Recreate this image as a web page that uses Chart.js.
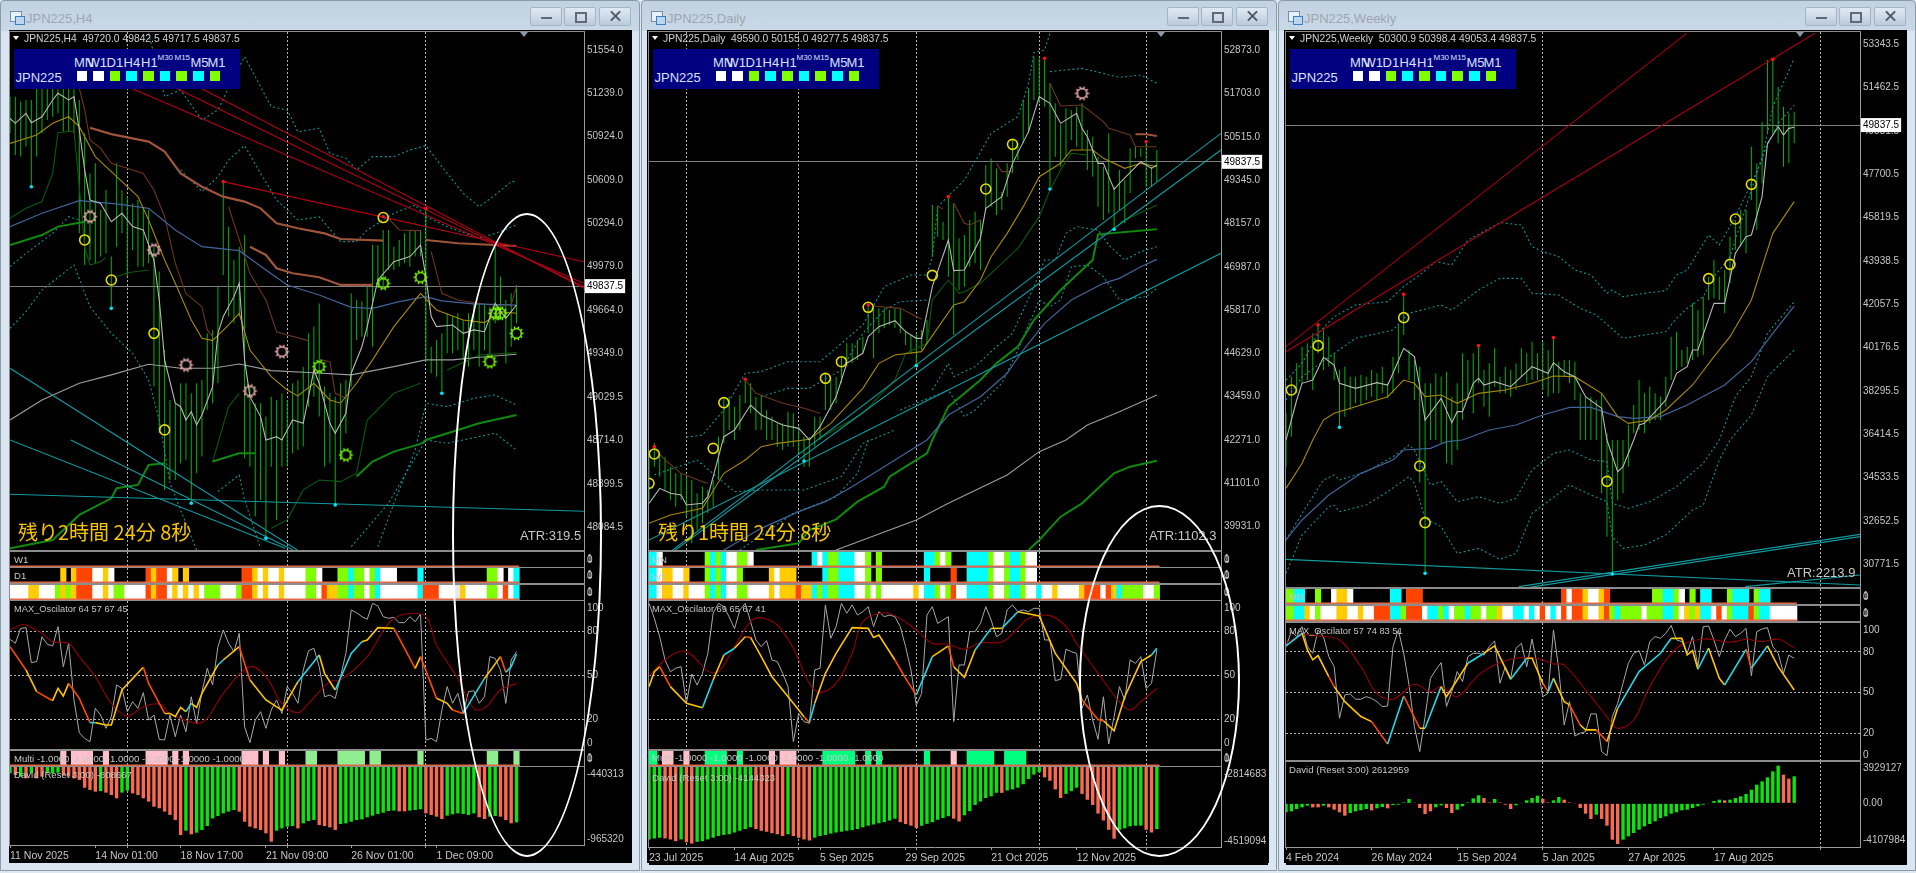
<!DOCTYPE html>
<html>
<head>
<meta charset="utf-8">
<title>JPN225</title>
<script src="https://cdn.jsdelivr.net/npm/chart.js@4"></script>
<style>
html, body { margin: 0; padding: 0; background: #dde8f2; overflow: hidden; }
body { width: 1916px; height: 873px; position: relative; font-family: "Liberation Sans", sans-serif; }
.win { position: absolute; top: 0; height: 871px; box-sizing: border-box; border: 1px solid #8d99a6; border-radius: 4px 4px 0 0; background: linear-gradient(#c3d2e0 0, #c9d8e6 30px, #d9e6f2 30px); }
.abs { position: absolute; }
canvas { position: absolute; background: #000; display: block; }
.txt { position: absolute; white-space: pre; line-height: 1; transform: translateY(-50%); }
.btn { position: absolute; top: 7px; width: 32px; height: 19px; box-sizing: border-box; border: 1px solid #a5b4c4; border-radius: 2px; background: linear-gradient(#dfe9f3, #bccbda); }
</style>
</head>
<body>
<script>
// ---------- JPN225,H4 ----------
const h4High = [51215,51215,51178,51191,51191,51275,51275,51275,51287,51275,
51287,51275,51275,51191,50948,50657,50730,50391,50536,50052,
50730,50536,50488,50439,50464,50403,50391,50124,49943,49373,
49010,48986,49131,49131,49058,49131,49155,49494,49519,49834,
50597,50270,50027,50124,50209,49107,48986,48986,48889,49034,
49010,49058,49010,49131,49155,49252,49494,49543,49712,49107,
49058,49034,49131,49155,49785,49737,49725,49834,50137,50137,
50246,50246,50124,50173,50221,50246,50246,50246,50391,49397,
49446,49494,49640,49616,49640,49591,49640,49712,49712,49712,
49688,50124,49906,49737,49785,49846];
const h4Low = [50948,50791,50779,50851,50560,50779,50948,51045,51069,51094,
50960,50960,50948,50221,49991,50027,50003,50052,50076,49676,
50124,50221,49906,50100,49979,49979,50003,49107,48768,48356,
48428,48428,48550,48574,48259,48477,48598,48937,48986,49131,
49918,49616,49567,49616,48586,48525,48162,48283,48004,48525,
48138,48525,48525,48622,48646,48671,48961,49034,48889,48525,
48550,48247,48574,48768,49107,49446,49470,49470,49397,49834,
49834,49955,49955,49979,50003,49979,50052,50052,49288,49204,
49179,49058,49349,49349,49373,49301,49252,49373,49252,49373,
49325,49567,49591,49276,49397,49567];
const h4White = [[0,51057],[1,51021],[3,51094],[4,51026],[6,51069],[8,51191],[9,51239],[11,51191],[12,51215],[13,50972],[14,50682],[15,50464],[17,50439],[19,50306],[21,50367],[23,50270],[25,50246],[27,50027],[28,49737],[29,49301],[31,48986],[32,48961],[33,48864],[34,48925],[35,48828],[36,48901],[38,49107],[39,49494],[40,49616],[42,49761],[43,49858],[44,49301],[45,49034],[47,48889],[48,48719],[50,48743],[51,48719],[53,48864],[55,48840],[57,49228],[58,49131],[60,48840],[61,48768],[63,48913],[64,49204],[66,49397],[67,49543],[69,49882],[72,50015],[75,50052],[77,50137],[78,49906],[79,49616],[80,49543],[83,49555],[85,49494],[87,49519],[89,49506],[91,49712],[93,49603],[95,49700]];
const h4Yellow = [[0,50875],[5,50936],[8,51021],[11,51069],[13,50997],[16,50779],[20,50633],[24,50488],[26,50318],[29,50027],[31,49858],[34,49591],[36,49458],[38,49441],[41,49555],[43,49640],[45,49373],[49,49179],[52,49082],[54,49039],[57,49131],[60,49010],[62,48986],[65,49131],[68,49301],[72,49543],[77,49785],[80,49664],[85,49591],[89,49572],[92,49652],[95,49640]];
const h4Blue = [[0,50270],[6,50367],[13,50459],[20,50435],[26,50403],[31,50246],[36,50124],[43,50095],[48,49955],[52,49846],[58,49773],[64,49683],[68,49676],[73,49725],[78,49761],[81,49730],[87,49708],[95,49700]];
const h4Gray = [[0,48864],[6,49010],[13,49131],[19,49192],[26,49269],[32,49240],[38,49240],[43,49271],[49,49223],[56,49209],[64,49192],[72,49252],[78,49301],[83,49301],[88,49320],[95,49342]];
const h4BrownThick = [[15,50989],[19,50943],[22,50919],[26,50888],[29,50815],[32,50657],[36,50560],[40,50488],[44,50452],[47,50403],[50,50294],[54,50258],[59,50221],[62,50180],[70,50168],[71,null],[78,50173],[84,50149],[95,50129],[95,null],[45,50124],[48,50064],[50,49967],[53,49931],[58,49902],[62,49846],[68,49846]];
const h4BrownThin = [[13,51275],[14,51118],[15,50900],[17,50839],[19,50730],[22,50694],[25,50657],[27,50536],[29,50342],[31,50003],[33,49785],[36,49688],[37,49519],[38,49470],[39,null],[41,50415],[43,50173],[45,49931],[48,49737],[50,49506],[52,49482],[56,49441],[57,null],[58,49305],[60,49288],[61,49058],[63,49022],[64,null],[71,50330],[73,50246],[77,50241],[78,null],[79,50088],[81,49785],[84,49737],[90,49700],[94,49700],[95,49834]];
const h4DarkGreen = [[0,50330],[3,50403],[6,50452],[8,50657],[9,50953],[12,50965],[13,50560],[14,50124],[15,49991],[17,50015],[18,50047],[19,null],[20,49906],[22,49935],[26,49955],[27,null],[38,48562],[41,48961],[43,49058],[44,null],[49,48077],[52,48138],[55,48356],[58,48428],[62,48416],[65,48477],[67,48864],[72,49058],[77,49131],[78,null],[82,49228],[88,49337],[95,49354]];
const h4ThickGreen = [[0,50137],[6,50209],[9,50270],[14,50306],[15,null],[0,47932],[8,47992],[13,48174],[19,48295],[20,48368],[24,48392],[26,48537],[29,48550],[30,null],[38,48562],[43,48622],[46,48622],[47,null],[65,48453],[68,48562],[72,48634],[77,48690],[78,48719],[84,48792],[88,48840],[95,48901]];
const h4Band1 = [[26,51675],[29,51215],[32,51263],[36,51045],[39,51118],[42,51360],[44,51506],[46,51360],[49,51142],[52,51118],[54,50960],[58,50985],[60,50803],[63,50767],[65,50682],[68,50779],[72,50779],[75,50827],[78,50859],[81,50706],[85,50512],[88,50415],[91,50500],[94,50597],[95,50597]];
const h4Band2 = [[0,49979],[3,50076],[8,50221],[11,50342],[13,50318],[14,null],[32,50682],[36,50524],[39,50633],[41,50754],[44,50859],[47,50657],[50,50464],[54,50318],[58,50342],[62,50161],[65,50161],[67,50246],[72,50367],[76,50427],[78,50342],[82,50270],[88,50185],[91,50221],[95,50282]];
const h4Band3 = [[0,49531],[3,49652],[6,49809],[12,49991],[15,49688],[19,49494],[23,49349],[26,49155],[28,48864],[30,48404],[35,47919],[36,null],[69,47943],[72,48259],[76,48646],[78,48986],[82,48961],[87,49022],[91,49046],[95,48973]];
const h4Band4 = [[39,48344],[43,48465],[44,48283],[47,47932],[48,null],[64,47943],[71,48259],[75,48525],[78,48719],[82,48695],[91,48768],[95,48646]];
const h4RedLines = [[[40,50597],[107.66,50015]],[[22.9,51275],[107.66,49858]],[[31.3,51275],[107.66,49834]],[[35.9,51275],[107.66,49822]]];
const h4TealLines = [[[0,49240],[53.9,47919]],[[0,48719],[51.6,47932]],[[11.4,48719],[53.1,47919]],[[0,48324],[107.66,48201]]];
const h4YellowRings = [[14,50173],[19,49882],[27,49494],[29,48792],[70,50336]];
const h4PinkGears = [[15,50342],[27,50100],[33,49264],[51,49361],[45,49075]];
const h4LimeGears = [[58,49252],[70,49858],[77,49902],[90,49288],[91,49640],[92,49640],[95,49494],[63,48610]];
const h4RedDots = [[40,50597],[78,50403],[70,50342]];
const h4CyanDots = [[4,50560],[19,49676],[34,48259],[48,48004],[61,48247],[81,49058]];
const h4StripA = "".padEnd(96,'_');
const h4StripB = "__________ Y _ Y OOO WW Y W ______ O Y OO W Y _ Y __________ OO Y W Y WW Y WWWW LL W ___ LL C LL W L C WWW ____ C ____________ LL W _ W C";
const h4StripC = "WWWW YY WWW L Y L Y OOO WW Y W LL WWWW O Y OO W Y W Y W Y W LLL WWW L OO Y W Y WW Y WWWW LL W O YY LL C LL W L C WWWWWWW C OOO WWW E Y WWWW LL W O W C";
const h4Multi = "__________ P _ PPPP __ P _______ PPPP _ P _ P __________ PPP _ P __ P ____ GG ____ GGGGG _ GG _______ G ____________ GG ___ G";
const h4OscGray = [74.7,72,82.2,82.7,58.8,59.5,76.5,71.3,70.2,83.4,56,72,33.3,10.9,7,4.8,27.6,23,13.9,21.9,43.5,41.2,25.3,32.1,27.6,38.3,19.6,23,6.4,5.9,23,8.2,23,11.6,35.5,17.3,39,54.9,43.5,69.7,81.1,72,66.3,78.8,15,4.1,19.6,25.3,13.9,26.4,33.3,24.1,42.4,37.8,31,53.8,67,68.6,56,35.5,36.7,34.4,49.2,65.1,94.8,92.9,90.2,88.4,99.3,97.5,90.2,89.1,89.7,86.1,86.1,90.2,86.8,92,5.9,7,4.8,26.4,42.4,31,37.8,24.1,39,39.6,31,35.5,62.9,61.7,53.8,31,60.6,66.3];
const h4OscMain = [[0,69.7,'O'],[3,53.8,'Y'],[5,39,'O'],[8,32.8,'Y'],[9,41.2,'Y'],[10,36,'Y'],[11,44.6,'O'],[13,34.4,'O'],[15,17.8,'C'],[16,17.8,'Y'],[18,16.2,'Y'],[19,16.2,'Y'],[21,40.1,'Y'],[25,55.6,'O'],[26,44.6,'O'],[29,24.1,'Y'],[30,24.1,'Y'],[31,21.9,'Y'],[32,28.2,'Y'],[33,25.3,'C'],[34,31,'Y'],[35,28.2,'Y'],[36,37.8,'Y'],[39,57.2,'C'],[40,60.6,'Y'],[43,69.7,'O'],[45,46.9,'Y'],[48,33.3,'Y'],[51,26.4,'Y'],[54,45.8,'C'],[58,64,'Y'],[59,51.5,'Y'],[61,40.1,'C'],[64,65.1,'C'],[66,73.1,'Y'],[67,74.3,'Y'],[69,82.7,'Y'],[72,82.2,'O'],[76,54.9,'Y'],[77,62.9,'O'],[80,34.4,'Y'],[82,31,'Y'],[83,26.4,'O'],[85,24.1,'C'],[89,48,'Y'],[92,62.9,'O'],[93,52.2,'C'],[94,56,'C'],[95,64.7,'C']];
const h4OscSignal = [[0,81.1],[2,84.5],[3,84.5],[6,78.8],[8,73.1],[11,72],[13,62.9],[16,49.2],[19,31],[22,22.3],[25,28.7],[28,30.5],[30,24.1],[35,17.3],[37,20.7],[40,37.8],[45,56],[48,49.2],[51,31],[54,24.6],[56,31],[60,45.8],[62,46.9],[67,62.9],[71,85.6],[74,91.8],[78,90.2],[80,70.8],[84,48],[87,27.6],[89,27.6],[92,40.1],[95,44.6]];
const h4DavidK = [-432,-446,-459,-473,-432,-473,-459,-432,-432,-427,-446,-459,-473,-486,-549,-567,-581,-576,-589,-608,-635,-589,-573,-595,-608,-635,-662,-703,-716,-743,-770,-811,-933,-898,-927,-914,-892,-860,-798,-779,-757,-743,-730,-743,-825,-865,-879,-892,-919,-987,-898,-879,-865,-860,-879,-838,-819,-811,-852,-860,-871,-892,-844,-838,-825,-811,-806,-789,-776,-762,-752,-738,-735,-741,-741,-735,-730,-724,-757,-770,-784,-803,-776,-765,-757,-762,-770,-757,-789,-803,-784,-779,-784,-811,-838,-830];
const h4DavidSide = "GRGRGRRGGG RRRRRRR G RRR GG RRRRRRRRRR G R GGGGGGGG RRRRRRR GGGG R GGG RRRR GGGGGGGGGGG RR GGG RRRR GGGGGG RR GG RRR G";
const h4PriceTicks = [51554,51239,50924,50609,50294,49979,49664,49349,49029.5,48714,48399.5,48084.5];
const h4Dates = ["11 Nov 2025","14 Nov 01:00","18 Nov 17:00","21 Nov 09:00","26 Nov 01:00","1 Dec 09:00"];

// ---------- JPN225,Daily ----------
const dHigh = [42013,42194,41922,41832,41560,41380,41380,41289,41199,40837,
41017,40927,41199,42375,43416,43461,43190,43506,43914,43823,
43461,43506,43099,42918,42737,42737,43054,43009,42647,42375,
42375,42918,42918,44095,43914,44004,44547,44909,44909,45000,
45090,45950,45859,45859,45859,45814,45859,45859,45226,45135,
45180,45271,45543,48665,48620,48212,48891,48710,47760,47850,
48258,48484,48258,49751,49932,49660,49027,49796,50430,50339,
51515,51832,52692,52692,52601,51968,51425,50837,51289,51244,
51335,51425,50701,50520,49977,49705,50610,49163,49615,49344,
50203,50248,50203,50384,49705,50158];
const dLow = [40655,41560,41289,40927,40655,40475,40655,40203,39479,39841,
40022,40294,40475,41199,42194,42556,42285,42556,43280,43009,
42556,42556,42285,42285,42104,42013,42104,42104,41922,41560,
41560,42104,42285,43099,43099,43280,43823,44275,44366,44456,
44638,45180,44501,45180,45316,45407,45316,45180,44864,44638,
44303,44728,44909,47262,47805,47715,46719,45135,46357,46448,
46990,47081,46900,48529,48620,48393,48529,48891,49524,49887,
50339,50610,51515,51425,51335,49163,49977,49705,49977,50430,
50248,50158,49615,49434,48620,48258,48438,47986,48529,48167,
48982,49932,49977,49163,49163,49298];
const dWhite = [[0,40565],[2,40972],[4,40837],[6,40791],[7,40520],[10,40565],[11,40746],[14,42375],[16,42556],[19,43235],[21,42963],[25,42692],[28,42601],[30,42285],[32,42647],[35,43461],[37,44366],[40,44638],[41,45090],[43,45361],[46,45524],[48,45226],[50,45045],[51,45045],[53,46448],[56,47715],[57,46882],[59,46900],[62,47760],[63,48574],[66,48891],[68,49796],[71,50656],[73,51606],[75,51425],[77,50882],[80,51154],[81,50746],[82,50520],[84,49796],[85,49796],[87,49090],[88,49253],[92,49841],[94,49660],[95,49751]];
const dYellow = [[0,40022],[4,40248],[10,40429],[14,41380],[18,41741],[21,42104],[24,42194],[30,42303],[34,42737],[40,43687],[43,44366],[46,44592],[51,44683],[52,44909],[57,45950],[59,46040],[62,46628],[64,47262],[67,47895],[70,48620],[73,49434],[77,49796],[79,50158],[83,50158],[85,49932],[89,49660],[92,49796],[95,49705]];
const dDarkGreen = [[32,42330],[40,43009],[46,43914],[48,44638],[52,44909],[53,46085],[56,46628],[58,46266],[59,46312],[62,46538],[66,47081],[69,47488],[73,48348],[75,49072],[77,49615],[79,50068],[82,50022],[83,null],[88,48185],[95,48665]];
const dBlue = [[14,39298],[21,39886],[28,40339],[33,40610],[38,41017],[46,41741],[52,42285],[56,42963],[62,43461],[67,44095],[70,44728],[74,45452],[79,46085],[85,46538],[88,46674],[92,46990],[95,47189]];
const dGray = [[35,39298],[50,40112],[56,40565],[67,41334],[73,41968],[78,42285],[82,42692],[88,43054],[95,43506]];
const dThickGreenA = [[20,39298],[28,39479],[30,39841],[35,40130],[39,40610],[44,41017],[45,41289],[48,41560],[52,41922],[53,42285],[56,43190],[62,43914],[65,44366],[69,44819],[72,45543],[77,46357],[83,47172],[84,47868],[95,48004]];
const dThickGreenB = [[71,39298],[73,39569],[77,40203],[81,40565],[87,41380],[90,41560],[95,41723]];
const dBrownThin = [[1,42058],[3,41741],[6,41380],[10,41154],[11,41108],[12,null],[18,43914],[20,43552],[25,43280],[29,43145],[32,43009],[33,null],[42,45923],[47,45859],[51,45561],[52,null],[54,48638],[55,48547],[56,null],[57,48710],[59,48167],[60,48122],[62,48258],[63,null],[65,49796],[66,49570],[68,49570],[69,null],[75,51968],[77,51353],[81,51380],[85,50927],[86,50746],[90,50565],[91,50248],[95,50248]];
const dBrownThick = [[91,50583],[93,50583],[95,50538]];
const dBand1 = [[7,42357],[10,42420],[14,43099],[18,44095],[21,44140],[26,44411],[32,44411],[36,44909],[40,45407],[44,46448],[49,46764],[52,46764],[53,47262],[54,48620],[59,49344],[64,50610],[69,51063],[71,51968],[72,52801],[74,52873],[75,53325]];
const dBand2 = [[21,43461],[26,43687],[30,43687],[36,44185],[40,45180],[44,45814],[47,46040],[52,46085],[53,null],[75,52285],[81,52375],[88,52131],[92,52194],[95,51968]];
const dBand3 = [[53,43642],[56,44366],[57,44004],[61,44275],[65,44819],[68,45180],[72,46448],[74,47171],[76,47171],[78,47895],[80,48077],[84,47986],[86,47579],[89,47171],[92,47398],[95,47534]];
const dBand4 = [[47,43099],[56,43642],[59,42918],[61,43099],[66,43823],[69,44728],[73,46085],[75,45904],[77,46085],[79,46990],[82,47036],[85,46719],[88,46085],[93,46176],[95,46402]];
const dBand5 = [[1,41334],[9,41741],[16,40882],[21,40927],[29,40927],[36,41289],[40,42194],[46,42556]];
const dBand6 = [[17,39298],[27,40294],[35,40746],[39,41380],[41,42285]];
const dTealLines = [[[0,38809],[107,50610]],[[0,38773],[107,50158]],[[0,39569],[107,47353]]];
const dYellowRings = [[14,43298],[33,43959],[36,44411],[41,45887],[53,46755],[63,49099],[68,50312],[1,41905],[12,42058],[0,41108]];
const dPinkGears = [[81,51696]];
const dRedDots = [[18,43932],[41,45950],[56,48891],[74,52647],[93,50384],[1,42104]];
const dCyanDots = [[50,44303],[75,49099],[87,48004],[29,41715]];
const dStripA = "CC W ________ L C L C WW LL W ___________ C W C LL CCC WW L _ L ________ CC L W L ___ CCCC L WW L CC L WW";
const dStripB = "CC W YY WW Y ___ L C L C WW L _____ Y W YYY _____ C LL CCC WW L _ L ________ C ____ O __ CCCC L WW L CC L WW";
const dStripC = "CC W YY WW Y WWW L C L C WW LL WWWW Y W YYY O YY C L C LL CCC WW L W L WWWWWW Y W CC L W L O WW CCCC L WW L CC L WW C WW Y WWWW Y OOO W O Y C LLLL WW L";
const dMulti = "SS _ PP __ P ___ SSSS __ S _____ P _ PPP _____ SSSSSS __ S _ S ________ S ____ P __ SSSSS __ SSSS";
const dOscGray = [99.3,89,76.5,60.6,52.6,55,56,31,51,43.5,51.5,65,92.5,99.3,97,90,82,94.8,99.3,86.8,74.3,69.7,73.8,60.6,59.5,51.5,42.4,4.8,24,18.5,17.3,53.8,55,98.2,75.4,83.4,99.3,92.5,98.2,91.3,93.6,97,83.4,93.6,90.2,91.3,90.2,83.4,69.7,53.8,29.8,37.8,91.3,97,85.6,87.9,90.2,18.5,57.2,57.2,80,80,85.6,97,87.9,76.5,78.8,94.8,98.2,93.6,94.8,93.6,95.9,95.9,74.3,74.3,46.5,47.4,67.9,66.3,65.1,27.6,36.7,19.6,6.4,35.5,3.2,21.9,42.4,33.3,60.6,58.3,62.9,41.2,44.6,67.4];
const dOscMain = [[0,42.4,'Y'],[1,52.6,'Y'],[2,56,'O'],[4,42.4,'Y'],[7,31,'Y'],[10,28,'C'],[12,46.9,'Y'],[14,64,'C'],[16,68.6,'Y'],[18,76.5,'O'],[19,76,'Y'],[21,62.9,'Y'],[23,49.2,'Y'],[27,31,'Y'],[29,21.9,'O'],[30,17.8,'C'],[31,31,'Y'],[33,51.5,'Y'],[35,65.1,'Y'],[38,82.7,'Y'],[41,82.2,'Y'],[42,76,'Y'],[43,77.7,'Y'],[46,60.6,'O'],[48,48,'O'],[50,36.7,'C'],[53,62.9,'Y'],[56,70.2,'O'],[57,56,'Y'],[59,48.7,'Y'],[61,67.4,'C'],[64,82.2,'Y'],[66,82.2,'C'],[69,93.6,'Y'],[73,90.7,'Y'],[76,65.1,'Y'],[80,44.6,'Y'],[81,33.3,'O'],[84,20,'O'],[85,19.1,'Y'],[87,12.3,'Y'],[89,35.5,'Y'],[92,59.5,'Y'],[94,64,'C'],[95,68.6,'C']];
const dOscSignal = [[0,49.7],[3,60.6],[6,66.7],[8,64],[11,53],[13,52.6],[16,69.7],[19,86.8],[21,89.5],[24,84.5],[27,68.6],[30,44.6],[32,38.3],[35,44.6],[38,65.1],[40,86.8],[44,92.9],[47,89],[50,81],[53,72],[56,71.5],[59,67.9],[62,72.4],[66,72.9],[69,82.2],[71,89],[75,90.9],[78,83.4],[80,72],[84,51.5],[88,32],[90,26.4],[92,32],[95,41.2]];
const dDavidK = [-4475,-4449,-4431,-4449,-4475,-4519,-4475,-4546,-4581,-4537,-4519,-4475,-4431,-4387,-4360,-4343,-4298,-4254,-4210,-4166,-4210,-4254,-4281,-4316,-4343,-4387,-4343,-4387,-4431,-4475,-4501,-4431,-4387,-4360,-4325,-4298,-4281,-4254,-4236,-4210,-4166,-4122,-4095,-4060,-4033,-3989,-3945,-4033,-4077,-4122,-4183,-4122,-4077,-4033,-3972,-3927,-3883,-3945,-4016,-3857,-3751,-3592,-3503,-3415,-3371,-3283,-3283,-3221,-3194,-3150,-3062,-2929,-2815,-2753,-2885,-2974,-3194,-3415,-3309,-3239,-3150,-3309,-3459,-3592,-3813,-3989,-4228,-4457,-4228,-4192,-4139,-4122,-4122,-4228,-4298,-4210];
const dDavidSide = "GGG RRR G RR GGGGGGGGGGG RRRRRR G RRRR GGGGGGGGGGGGGGGG RRRR GGGGGG RR GGGGGGG R GGGGGGG RRRR GGG RRRRRRR GGGGG RR G";
const dPriceTicks = [52873,51703,50515,49345,48157,46987,45817,44629,43459,42271,41101,39931];
const dDates = ["23 Jul 2025","14 Aug 2025","5 Sep 2025","29 Sep 2025","21 Oct 2025","12 Nov 2025"];

// ---------- JPN225,Weekly ----------
const wHigh = [37325,38917,39495,40219,40364,40798,41232,41015,40653,39930,
39206,39351,38917,38917,38989,38917,39206,39062,39351,38628,
39785,41160,42534,40075,39640,39351,38628,38628,39062,38917,
39134,38049,38628,39930,39640,39930,40292,39206,39495,40147,
38917,39351,39206,39495,40147,39930,40436,39930,40436,40075,
40653,39568,39640,39640,39568,38193,38049,38049,37904,38193,
36457,36167,36167,36167,36818,37687,38772,38193,38483,38193,
38049,38917,40653,40871,40075,40219,42100,41811,42390,43258,
43981,43258,43547,44994,45718,46152,46152,48901,48178,49986,
52663,52736,51506,50638,50348,50421];
const wLow = [35010,36312,38193,38628,38772,38338,39930,39206,39351,38772,
36673,37180,37470,37759,37687,37904,38049,37904,38193,37976,
38193,39062,40726,38772,37904,34315,30379,36167,36167,36023,
35154,35082,35733,37035,37904,37325,38628,37614,37180,38483,
38193,38193,38049,38338,38917,38628,38772,38772,38338,38049,
38193,38193,38917,38628,37904,36167,36167,36167,36167,33852,
31971,30379,33563,33852,35010,36457,36601,36457,36890,37035,
37035,37614,38772,39206,39351,39495,39640,39785,39857,42245,
42317,42245,41666,42969,44416,44560,44271,46586,45284,47310,
49480,49480,49046,48033,48178,49046];
const wWhite = [[0,36167],[2,37904],[3,38628],[5,38772],[7,39756],[9,39423],[10,38628],[13,38410],[17,38657],[19,38555],[20,39062],[22,40147],[24,39785],[25,38483],[26,37035],[29,37976],[31,36920],[32,37398],[33,37398],[35,38628],[36,38844],[37,38555],[39,38700],[42,38483],[44,38917],[46,39351],[49,39062],[50,39525],[52,39134],[54,38917],[56,38049],[59,37542],[60,36167],[62,34793],[63,35010],[65,36167],[66,36818],[67,36890],[71,37904],[73,39062],[75,39351],[76,40075],[77,40075],[80,42100],[82,42100],[84,44271],[86,44994],[87,45066],[89,46731],[90,49046],[92,49770],[93,49408],[94,49697],[95,49741]];
const wYellow = [[0,34069],[3,35154],[5,36167],[7,37035],[9,37325],[13,37614],[19,38049],[22,38772],[24,38628],[26,38049],[29,38121],[32,37759],[36,38193],[41,38338],[46,38628],[50,38946],[54,38917],[59,38193],[62,37180],[64,36890],[68,37035],[71,37470],[76,38555],[80,39785],[83,40653],[87,42245],[89,43692],[91,45139],[95,46514]];
const wBlue = [[0,31827],[3,32696],[8,33779],[14,34719],[20,35298],[22,35733],[27,35805],[30,36095],[33,36167],[38,36601],[43,36818],[48,37253],[53,37586],[57,37586],[62,37180],[65,37108],[70,37180],[75,37687],[82,38555],[87,39568],[91,40798],[95,41984]];
const wBandA = [[0,38772],[3,39495],[6,40798],[9,41522],[13,42028],[19,42173],[22,42825],[25,43330],[28,43915],[31,43770],[34,44850],[40,45602],[44,45500],[46,44560],[48,44343],[51,44126],[54,43547],[57,43330],[60,42534],[61,42679],[63,42390],[67,42534],[71,42650],[73,43330],[75,43547],[79,45066],[81,44632],[84,45863],[87,47310],[89,48322],[91,50638],[95,52736]];
const wBandB = [[0,37904],[3,38917],[9,39930],[13,40581],[20,40942],[23,41666],[29,42028],[31,41811],[36,42679],[40,43185],[44,43185],[46,42534],[51,42462],[55,41883],[58,41594],[63,40581],[67,40726],[71,40871],[73,41449],[75,41883],[78,42390],[80,43258],[83,44126],[89,48467],[92,49914],[95,50710]];
const wBandC = [[0,30379],[3,32043],[8,33273],[9,33345],[10,33056],[15,33345],[19,33924],[23,34575],[24,34287],[26,32767],[29,32405],[32,31247],[36,31464],[40,30987],[43,31247],[46,32984],[51,33852],[53,34214],[57,33779],[60,33490],[61,31971],[63,31464],[67,31608],[71,32043],[76,33128],[78,33345],[81,35298],[83,36167],[87,37253],[90,38917],[95,40075]];
const wBandD = [[0,31827],[3,32984],[7,34431],[9,34648],[10,34431],[15,34793],[20,35444],[23,35950],[24,35733],[27,34214],[29,34359],[32,33490],[36,33706],[40,33417],[43,33633],[46,34865],[50,35588],[53,35733],[57,35298],[60,35226],[61,33417],[64,33200],[68,33490],[73,34142],[78,35154],[81,36167],[84,38049],[87,38917],[90,40798],[95,42173]];
const wRedLines = [[[0,40002],[98.9,53821]],[[0,40219],[74.9,53821]]];
const wTealLines = [[[0,30987],[107.3,29873]],[[43.5,29801],[107.3,32072]],[[43.5,29700],[107.3,31971]],[[85.9,29801],[107.3,30307]]];
const wYellowRings = [[1,38338],[6,40263],[22,41478],[25,35039],[26,32579],[60,34373],[79,43171],[83,43793],[84,45761],[87,47266]];
const wRedDots = [[6,41160],[22,42491],[36,40263],[50,40610],[91,52692]];
const wCyanDots = [[10,36717],[26,30379],[61,30350]];
const wStripA = "LL CC __ L __ W YY W _______ CC _ OOO __________________________ O W OO Y WW Y O ________ LL CC L W _ L _ CC ___ L CCC _ L CC";
const wStripB = "LL CC Y W L WWW YY WW Y WW OOO CC L OOO W CC L C W LL C LL W LL Y WW CC W C W O W C W O W OO Y WW Y O L C LLLL W LLL CC L W Y L Y CC W O W L CCC O L CC WWWWW";
const wOscGray = [83.8,94.8,91.2,98.5,83.8,78.9,96.1,91.2,76.4,69,31,48.2,48.9,45,45,46.9,45.7,43.2,39.6,40,83.8,96.1,78.9,55.5,24.8,6.4,32.2,60.4,66.6,72,39.6,50.6,65.4,58,76.4,78.9,78.9,77.6,83.8,88,56.8,69,60.4,82.6,86.2,69,89.4,69,46.9,49.4,96.1,66.6,26,43.2,17.9,19.9,21.1,34.2,34.2,6.4,3.4,32.2,42,56.8,71.5,78.9,80.8,70.3,87.5,91.2,89.9,93.6,99.3,88.7,87.5,78.9,91.2,69,98.5,99,88.7,76.4,88.7,96.6,91.2,93.6,97.3,62.2,94.8,96.8,97.8,83.8,78.9,64.1,77.6,75.2];
const wOscMain = [[0,84.3,'C'],[3,93.6,'Y'],[4,81.3,'Y'],[5,74,'Y'],[6,77.2,'Y'],[8,61.7,'O'],[9,54.3,'Y'],[11,43.2,'Y'],[14,32.2,'Y'],[16,28.5,'O'],[19,12,'C'],[22,47.4,'O'],[25,23.6,'Y'],[26,23.6,'C'],[29,54.3,'Y'],[30,46.9,'Y'],[34,71.5,'C'],[37,78.9,'Y'],[39,84.3,'Y'],[42,59.7,'C'],[45,75.2,'Y'],[46,75.2,'Y'],[48,56.8,'O'],[49,50.6,'C'],[50,60.4,'Y'],[52,43.2,'Y'],[53,40.8,'O'],[55,26,'Y'],[56,22.4,'Y'],[58,22.4,'O'],[60,13.8,'Y'],[62,38.3,'C'],[66,65.4,'C'],[70,78.9,'C'],[72,89.9,'Y'],[74,89.9,'Y'],[75,77.6,'Y'],[76,80.8,'Y'],[77,67.1,'C'],[79,82.6,'Y'],[81,60.4,'Y'],[82,55.5,'C'],[86,81.8,'O'],[87,67.8,'C'],[90,84.3,'Y'],[92,69,'Y'],[95,51.8,'Y']];
const wOscSignal = [[0,86.2],[3,92.4],[6,91.6],[10,88.7],[14,69],[17,49.4],[20,45],[24,56],[27,50.6],[29,54.3],[32,46.9],[36,62.9],[39,70.3],[43,75.2],[47,75.2],[50,71],[52,70.3],[57,46.9],[60,32.2],[62,23.6],[65,29.7],[68,54.3],[73,82.6],[78,89.4],[83,87],[86,89.2],[89,87.5],[92,89.2],[95,83]];
const wDavidK = [-1010,-898,-636,-449,-262,-449,-449,-262,-449,-711,-1010,-1384,-1085,-898,-785,-636,-785,-561,-411,-561,-187,-150,112,486,37,-524,-1197,-898,-449,-224,-524,-1085,-711,-337,112,561,898,598,112,486,112,-150,-636,-224,-37,337,598,860,486,112,337,711,411,112,-37,-524,-1159,-1758,-1272,-1758,-2506,-4077,-4563,-4077,-3703,-3329,-2955,-2581,-2319,-2020,-1646,-1459,-1159,-1010,-785,-711,-524,-337,-150,-37,262,411,337,411,598,785,1047,1533,2094,2468,2917,3590,4226,3216,2768,3029];
const wDavidSide = "GGGGG RR G RRRR GGGG R GG R GGGG RRRR GG RR GGGGG RR G RRR GGGGG RR GG RRRRRR G RRRR GGGGGGGGGGGGGGGGGGG R GGGGGGGGGG RR G";
const wPriceTicks = [53343.5,51462.5,49581.5,47700.5,45819.5,43938.5,42057.5,40176.5,38295.5,36414.5,34533.5,32652.5,30771.5];
const wDates = ["4 Feb 2024","26 May 2024","15 Sep 2024","5 Jan 2025","27 Apr 2025","17 Aug 2025"];

const lastPrice = 49837.5;
const dateBars = [0,16,32,48,64,80];
const tfLabels = ["MN","W1","D1","H4","H1","M30","M15","M5","M1"];
const tfStates = ["W","W","L","C","L","C","L","C","L"];

const GRID = '#b4b4b4', AXIS = '#9c9c9c', TXT = '#c6c6c6', FONT = '"Liberation Sans", sans-serif';
const CELL = {W:'#ffffff',O:'#ff4500',Y:'#ffcc00',L:'#7fff00',C:'#00ffff',P:'#ffc0cb',G:'#90ee90',S:'#00ff7f',E:'#e8e8e8'};
const MAIN_C = {O:'#ff4a00',Y:'#ffc400',C:'#22d8e8'};
const SIDE = {G:'#0ce40c',R:'#fa6a50'};
const clean = s => s.replace(/ /g,'').padEnd(96,'_').split('');
const xy = pts => pts.map(p => ({x:p[0], y:p[1]}));

// gear shaped marker, drawn once and used as a point style
function gear(color) {
  const c = document.createElement('canvas');
  c.width = c.height = 17;
  c.style.display = 'none';
  const g = c.getContext('2d');
  g.strokeStyle = color; g.lineWidth = 1.5;
  g.beginPath(); g.arc(8.5,8.5,4.7,0,Math.PI*2); g.stroke();
  g.lineWidth = 1.6;
  for (let a = 0; a < 10; a++) {
    const t = a*Math.PI/5;
    g.beginPath();
    g.moveTo(8.5+5*Math.cos(t),8.5+5*Math.sin(t));
    g.lineTo(8.5+7*Math.cos(t),8.5+7*Math.sin(t));
    g.stroke();
  }
  return c;
}
const pinkGear = gear('#f2b4b4'), limeGear = gear('#7fff00');

function line(pts, color, width, extra) {
  return Object.assign({type:'line', data:xy(pts), borderColor:color, borderWidth:width, pointRadius:0, spanGaps:false, tension:0}, extra||{});
}
function dotted(pts) { return line(pts,'#179296',1.1,{borderDash:[2,2.5]}); }
function points(pts, style, radius, color, borderW) {
  return {type:'line', data:xy(pts), showLine:false, pointStyle:style, pointRadius:radius, pointBackgroundColor:color==='fill'?undefined:'transparent', pointBorderColor:color, pointBorderWidth:borderW||0};
}
function dots(pts, color) {
  return {type:'line', data:xy(pts), showLine:false, pointStyle:'circle', pointRadius:1.8, pointBackgroundColor:color, pointBorderWidth:0};
}
function wicks(high, low) {
  return {type:'bar', data:high.map((h,i)=>({x:i, y:[low[i],h]})), backgroundColor:'#00b400', barThickness:1, inflateAmount:0, borderWidth:0};
}

function xAxis(w, labelled) {
  return {
    type:'linear', min:0, max:w.xMax, offset:false,
    afterBuildTicks: s => {
      const all = new Set(w.grid);
      if (labelled) dateBars.forEach(v => all.add(v));
      s.ticks = [...all].sort((a,b)=>a-b).map(value => ({value}));
    },
    afterFit: s => { s.height = labelled ? 18 : 0; s.paddingLeft = 0; s.paddingRight = 0; },
    grid: {offset:false, color: c => (c.tick && w.grid.includes(c.tick.value)) ? GRID : 'transparent', drawTicks:labelled, tickLength:3, tickColor:AXIS, lineWidth:1},
    border: {display:labelled, color:AXIS, dash:[2,2]},
    ticks: {display:labelled, autoSkip:false, maxRotation:0, align:'start', color:TXT, padding:2, font:{family:FONT,size:10.5},
      callback: v => { const k = dateBars.indexOf(v); return k < 0 ? '' : w.dates[k]; }}
  };
}
function yAxis(w, o) {
  return {
    position:'right', min:o.min, max:o.max,
    afterBuildTicks: s => { s.ticks = o.ticks.map(value => ({value})); },
    afterFit: s => { s.width = w.axisW; s.paddingTop = 0; s.paddingBottom = 0; },
    grid: {color: c => (c.tick && o.gridAt && o.gridAt.includes(c.tick.value)) ? o.gridColor : 'transparent', drawTicks:false, lineWidth:1},
    border: {color:AXIS, dash:o.dash},
    ticks: {autoSkip:false, padding:3, crossAlign:'near', font:{family:FONT,size:10},
      color: c => (c.tick && c.tick.value === lastPrice) ? '#000' : TXT,
      showLabelBackdrop: c => !!(c.tick && c.tick.value === lastPrice),
      backdropColor:'#ffffff', backdropPadding:{top:1,bottom:1,left:2,right:2},
      callback:o.label}
  };
}

function pane(w, top, height, datasets, yCfg, labelled) {
  const c = document.createElement('canvas');
  c.width = w.plotW + w.axisW;
  c.height = height + (labelled ? 18 : 0);
  c.style.left = w.plotL + 'px';
  c.style.top = top + 'px';
  document.body.appendChild(c);
  new Chart(c.getContext('2d'), {
    data:{datasets},
    options:{responsive:false, animation:false, devicePixelRatio:1, events:[], normalized:false,
      layout:{padding:0, autoPadding:false},
      plugins:{legend:{display:false}, tooltip:{enabled:false}},
      datasets:{bar:{grouped:false}},
      scales:{x:xAxis(w,labelled), y:yAxis(w,yCfg)}}
  });
}
function strip(w, top, cells, labelled) {
  const codes = clean(cells);
  const bars = {type:'bar', data:codes.map((k,i)=>({x:i,y:1})), backgroundColor:codes.map(k=>CELL[k]||'transparent'), barThickness:5.5, borderWidth:0};
  const base = line([[0,0.05],[95.5,0.05]],'#e0694a',1.5);
  pane(w, top, 15, [base,bars], {min:0, max:1, ticks:[0.55,0.45], label:v => v > 0.5 ? '1' : '0'}, false);
}
function osc(w, top, height, range, gray, main, signal) {
  const ds = [
    {type:'line', data:main.map(p=>({x:p[0],y:p[1]})), borderWidth:1.6, pointRadius:0, tension:0,
      segment:{borderColor:c => MAIN_C[main[c.p0DataIndex][2]]}, borderColor:MAIN_C.Y},
    line(signal,'#960000',1.1,{tension:0.35}),
    line(gray.map((v,i)=>[i,v]),'#a8a8a8',1)
  ];
  pane(w, top, height, ds, {min:range[0], max:range[1], ticks:[96,80,50,20,4],
    label:v => ({96:'100',4:'0'})[v] || String(v), gridAt:[80,50,20], gridColor:GRID, dash:[2,2]}, false);
}
function david(w, top, height, range, k, side, ticks, names) {
  const s = clean(side);
  const ds = [{type:'bar', data:k.map((v,i)=>({x:i,y:v*1000})), backgroundColor:s.map(c=>SIDE[c]), barThickness:3.4, inflateAmount:0, borderWidth:0}];
  pane(w, top, height, ds, {min:range[0], max:range[1], ticks, label:v => names[ticks.indexOf(v)]}, true);
}

function el(cls, css, text) {
  const d = document.createElement('div');
  if (cls) d.className = cls;
  d.style.cssText = css;
  if (text !== undefined) d.textContent = text;
  document.body.appendChild(d);
  return d;
}
function text(x, y, s, size, color, family) {
  return el('txt', `left:${x}px;top:${y}px;font-size:${size}px;color:${color||TXT};font-family:${family||FONT}`, s);
}
function frame(w) {
  el('win', `left:${w.winL}px;width:${w.winW}px`);
  el('abs', `left:${w.blackL}px;top:30px;width:${w.blackW}px;height:833px;background:#000`);
  el('abs', `left:${w.plotL-1}px;top:31px;width:${w.plotW+2}px;height:${w.grayH}px;background:#8c8c8c`);
}
function chrome(w) {
  const iconX = w.winL + 10;
  el('abs', `left:${iconX}px;top:11px;width:10px;height:9px;border:1px solid #6d8fb5;background:#e8f0f8`);
  el('abs', `left:${iconX+5}px;top:16px;width:8px;height:7px;border:1px solid #3c7fc0;background:#bcd6ee`);
  text(w.winL+26, 18, w.title, 13, '#9ba6b0');
  const bx = w.blackL + w.blackW;
  [102,68,33].forEach((off,i) => {
    el('btn', `left:${bx-off}px`);
    const cx = bx-off+16;
    if (i === 0) el('abs', `left:${cx-5}px;top:17px;width:11px;height:2px;background:#5e6a76`);
    if (i === 1) el('abs', `left:${cx-5}px;top:12px;width:8px;height:7px;border:2px solid #5e6a76`);
    if (i === 2) {
      el('abs', `left:${cx-6}px;top:15px;width:13px;height:2px;background:#4e5a66;transform:rotate(45deg)`);
      el('abs', `left:${cx-6}px;top:15px;width:13px;height:2px;background:#4e5a66;transform:rotate(-45deg)`);
    }
  });
  // small triangles of the terminal
  el('abs', `left:${w.plotL+3}px;top:36px;width:0;height:0;border-left:3.5px solid transparent;border-right:3.5px solid transparent;border-top:4px solid #fff`);
  el('abs', `left:${w.plotL+w.plotW-64}px;top:32px;width:0;height:0;border-left:4.5px solid transparent;border-right:4.5px solid transparent;border-top:5px solid #8a98a6`);
  text(w.plotL+14, 39, w.header, 10.3, '#d0d0d0');
  // blue signal panel
  const px = w.plotL + 3.5;
  el('abs', `left:${px}px;top:49px;width:226px;height:40px;background:#000080`);
  text(px+2, 77, 'JPN225', 13, '#d8e0f8');
  const lx = [60.5,74,93,110,127.5,144,161,177,194];
  tfLabels.forEach((t,i) => {
    const small = t === 'M30' || t === 'M15';
    text(px+lx[i], small ? 58 : 62, t, small ? 8 : 13, '#d8e0f8');
    el('abs', `left:${px+63+i*16.65}px;top:71px;width:10.5px;height:10px;background:${CELL[tfStates[i]]}`);
  });
}

const h4 = {winL:0,winW:640,blackL:9,blackW:623,plotL:10,plotW:574,axisW:48,xMax:107.66,grayH:815,grid:[22,52,78],dates:h4Dates,
  title:'JPN225,H4', header:'JPN225,H4  49720.0 49842.5 49717.5 49837.5'};
const daily = {winL:641,winW:636,blackL:647,blackW:622,plotL:649,plotW:572,axisW:47,xMax:107,grayH:817,grid:[7,28,50,73,93],dates:dDates,
  title:'JPN225,Daily', header:'JPN225,Daily  49590.0 50155.0 49277.5 49837.5'};
const weekly = {winL:1278,winW:638,blackL:1284,blackW:623,plotL:1286,plotW:574,axisW:47,xMax:107.3,grayH:817,grid:[48,100],dates:wDates,
  title:'JPN225,Weekly', header:'JPN225,Weekly  50300.9 50398.4 49053.4 49837.5'};
const priceTickFn = v => v.toFixed(1);
[h4,daily,weekly].forEach(frame);

// H4
pane(h4, 32, 518, [
  points(h4YellowRings,'circle',5,'#e8dc00',1.6),
  points(h4PinkGears,pinkGear,5,'fill'),
  points(h4LimeGears,limeGear,5,'fill'),
  dots(h4RedDots,'#ff1010'), dots(h4CyanDots,'#00e5ff'),
  line(h4White,'#b8b8b8',1.1),
  ...h4RedLines.map(l => line(l,'#b80012',1.1)),
  ...h4TealLines.map(l => line(l,'#109ba0',1.1)),
  line(h4Yellow,'#a88a08',1.1),
  line(h4Blue,'#41659c',1.2),
  line(h4Gray,'#9d9d9d',1.1),
  line(h4BrownThick,'#a0553a',2.2),
  line(h4BrownThin,'#6e371c',1.1),
  line(h4ThickGreen,'#0f8a0f',2),
  line(h4DarkGreen,'#0b5a0b',1.1),
  dotted(h4Band1),dotted(h4Band2),dotted(h4Band3),dotted(h4Band4),
  wicks(h4High,h4Low)
], {min:47919,max:51685,ticks:[...h4PriceTicks,lastPrice],label:priceTickFn,gridAt:[lastPrice],gridColor:'#7c7c7c'}, false);
strip(h4,552,h4StripA);
strip(h4,568,h4StripB);
strip(h4,585,h4StripC);
osc(h4,601,148,[-0.2,100.9],h4OscGray,h4OscMain,h4OscSignal);
strip(h4,751,h4Multi);
david(h4,767,78,[-1014000,-380780],h4DavidK,h4DavidSide,[-440313,-965320],['-440313','-965320']);

// Daily
pane(daily, 32, 518, [
  points(dYellowRings,'circle',5,'#e8dc00',1.6),
  points(dPinkGears,pinkGear,5,'fill'),
  dots(dRedDots,'#ff1010'), dots(dCyanDots,'#00e5ff'),
  line(dWhite,'#b8b8b8',1.1),
  ...dTealLines.map(l => line(l,'#109ba0',1.1)),
  line(dYellow,'#a88a08',1.1),
  line(dBlue,'#41659c',1.2),
  line(dGray,'#9d9d9d',1.1),
  line(dBrownThick,'#a0553a',2),
  line(dBrownThin,'#6e371c',1.1),
  line(dThickGreenA,'#0f8a0f',2),
  line(dThickGreenB,'#0f8a0f',2),
  line(dDarkGreen,'#0b5a0b',1.1),
  dotted(dBand1),dotted(dBand2),dotted(dBand3),dotted(dBand4),dotted(dBand5),dotted(dBand6),
  wicks(dHigh,dLow)
], {min:39298,max:53362,ticks:[...dPriceTicks,lastPrice],label:priceTickFn,gridAt:[lastPrice],gridColor:'#7c7c7c'}, false);
strip(daily,552,dStripA);
strip(daily,568,dStripB);
strip(daily,585,dStripC);
osc(daily,601,148,[-0.2,100.9],dOscGray,dOscMain,dOscSignal);
strip(daily,751,dMulti);
david(daily,767,80,[-4669200,-2620400],dDavidK,dDavidSide,[-2814683,-4519094],['-2814683','-4519094']);

// Weekly
pane(weekly, 32, 555, [
  points(wYellowRings,'circle',5,'#e8dc00',1.6),
  dots(wRedDots,'#ff1010'), dots(wCyanDots,'#00e5ff'),
  line(wWhite,'#b8b8b8',1.1),
  ...wRedLines.map(l => line(l,'#a50010',1.1)),
  ...wTealLines.map(l => line(l,'#109ba0',1.2)),
  line(wYellow,'#a88a08',1.1),
  line(wBlue,'#41659c',1.2),
  dotted(wBandA),dotted(wBandB),dotted(wBandC),dotted(wBandD),
  wicks(wHigh,wLow)
], {min:29786,max:53879,ticks:[...wPriceTicks,lastPrice],label:priceTickFn,gridAt:[lastPrice],gridColor:'#7c7c7c'}, false);
strip(weekly,589,wStripA);
strip(weekly,606,wStripB);
osc(weekly,623,137,[0.2,101.2],wOscGray,wOscMain,wOscSignal);
david(weekly,762,85,[-4899400,4637600],wDavidK,wDavidSide,[3929127,0,-4107984],['3929127','0.00','-4107984']);

[h4,daily,weekly].forEach(chrome);

// labels inside the panes
const JP = '"Noto Sans CJK JP", sans-serif';
text(18, 532, '残り2時間 24分 8秒', 20, '#f5c400', JP);
text(658, 532, '残り1時間 24分 8秒', 20, '#f5c400', JP);
text(520, 535, 'ATR:319.5', 13);
text(1149, 535, 'ATR:1102.3', 13);
text(1787, 572, 'ATR:2213.9', 13);
text(14, 560, 'W1', 9.6);
text(14, 576, 'D1', 9.6);
text(14, 610, 'MAX_Oscilator 64 57 67 45', 9.3);
text(14, 759, 'Multi -1.0000  1.0000 -1.0000 -1.0000 -1.0000 -1.0000', 9.6);
text(14, 775, 'David (Reset 3:00) -808667', 9.6);
text(652, 560, 'MN', 9.6);
text(652, 577, 'W1', 9.6);
text(652, 610, 'MAX_Oscilator 69 65 67 41', 9.3);
text(652, 758, 'Multi -1.0000 -1.0000 -1.0000 -1.0000 -1.0000 -1.0000', 9.6);
text(652, 778, 'David (Reset 3:00) -4144323', 9.6);
text(1289, 597, 'MN', 9.6);
text(1289, 632, 'MAX_Oscilator 57 74 83 51', 9.3);
text(1289, 770, 'David (Reset 3:00) 2612959', 9.6);

// hand drawn ellipses on the H4 and Daily charts
el('abs', 'left:452px;top:213px;width:146px;height:640px;border:2px solid #fff;border-radius:50%');
el('abs', 'left:1079px;top:505px;width:157px;height:348px;border:2px solid #fff;border-radius:50%');
</script>
</body>
</html>
